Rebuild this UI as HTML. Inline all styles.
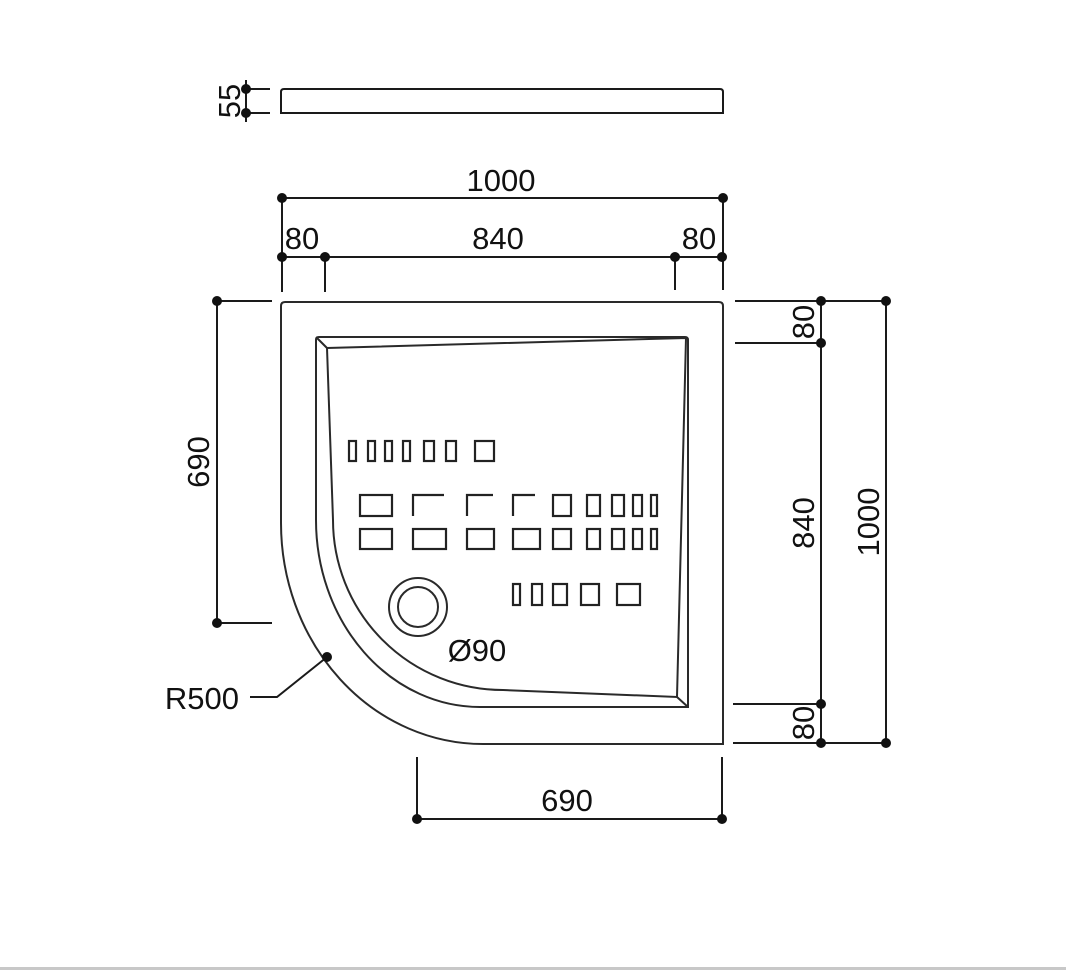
<!DOCTYPE html>
<html><head><meta charset="utf-8"><style>
html,body{margin:0;padding:0;background:#fff;width:1066px;height:972px;overflow:hidden}
svg{display:block}
text{font-family:"Liberation Sans",Arial,sans-serif;font-size:31px;fill:#111}
</style></head><body>
<svg width="1066" height="972" viewBox="0 0 1066 972" xmlns="http://www.w3.org/2000/svg">
<g fill="none" stroke="#1a1a1a" stroke-width="2">
<path d="M281,113 L281,92 Q281,89 284,89 L720,89 Q723,89 723,92 L723,113 Z"/>
<line x1="246" y1="80" x2="246" y2="122"/>
<line x1="246" y1="89" x2="270" y2="89"/>
<line x1="246" y1="113" x2="270" y2="113"/>
<line x1="282" y1="198" x2="723" y2="198"/>
<line x1="282" y1="198" x2="282" y2="292"/>
<line x1="723" y1="198" x2="723" y2="290"/>
<line x1="282" y1="257" x2="722" y2="257"/>
<line x1="325" y1="257" x2="325" y2="292"/>
<line x1="675" y1="257" x2="675" y2="290"/>
<line x1="217" y1="301" x2="217" y2="623"/>
<line x1="217" y1="301" x2="272" y2="301"/>
<line x1="217" y1="623" x2="272" y2="623"/>
<line x1="821" y1="301" x2="821" y2="743"/>
<line x1="886" y1="301" x2="886" y2="743"/>
<line x1="735" y1="301" x2="886" y2="301"/>
<line x1="735" y1="343" x2="821" y2="343"/>
<line x1="733" y1="704" x2="821" y2="704"/>
<line x1="733" y1="743" x2="886" y2="743"/>
<line x1="417" y1="757" x2="417" y2="819"/>
<line x1="722" y1="757" x2="722" y2="819"/>
<line x1="417" y1="819" x2="722" y2="819"/>
<polyline points="327,657 277,697 250,697"/>
</g>
<g fill="none" stroke="#2a2a2a" stroke-width="2">
<path d="M281,523 L281,306 Q281,302 285,302 L719,302 Q723,302 723,306 L723,744 L483,744 A202,221 0 0 1 281,523 Z"/>
<path d="M316,520 L316,340 Q316,337 319,337 L685,337 Q688,337 688,340 L688,707 L480,707 A164,187 0 0 1 316,520 Z"/>
<path d="M327,348 L686,338 L677,697 L503,690 A170,170 0 0 1 333,520 Z"/>
<line x1="316" y1="337" x2="327" y2="348"/>
<line x1="688" y1="707" x2="677" y2="697"/>
<circle cx="418" cy="607" r="29"/>
<circle cx="418" cy="607" r="20"/>
</g>
<g fill="none" stroke="#222" stroke-width="2.2">
<rect x="349" y="441" width="7" height="20"/>
<rect x="368" y="441" width="7" height="20"/>
<rect x="385" y="441" width="7" height="20"/>
<rect x="403" y="441" width="7" height="20"/>
<rect x="424" y="441" width="10" height="20"/>
<rect x="446" y="441" width="10" height="20"/>
<rect x="475" y="441" width="19" height="20"/>
<rect x="360" y="495" width="32" height="21"/>
<polyline points="413,516 413,495 444,495"/>
<polyline points="467,516 467,495 493,495"/>
<polyline points="513,516 513,495 535,495"/>
<rect x="553" y="495" width="18" height="21"/>
<rect x="587" y="495" width="13" height="21"/>
<rect x="612" y="495" width="12" height="21"/>
<rect x="633" y="495" width="9" height="21"/>
<rect x="651" y="495" width="6" height="21"/>
<rect x="360" y="529" width="32" height="20"/>
<rect x="413" y="529" width="33" height="20"/>
<rect x="467" y="529" width="27" height="20"/>
<rect x="513" y="529" width="27" height="20"/>
<rect x="553" y="529" width="18" height="20"/>
<rect x="587" y="529" width="13" height="20"/>
<rect x="612" y="529" width="12" height="20"/>
<rect x="633" y="529" width="9" height="20"/>
<rect x="651" y="529" width="6" height="20"/>
<rect x="513" y="584" width="7" height="21"/>
<rect x="532" y="584" width="10" height="21"/>
<rect x="553" y="584" width="14" height="21"/>
<rect x="581" y="584" width="18" height="21"/>
<rect x="617" y="584" width="23" height="21"/>
</g>
<g fill="#111">
<circle cx="246" cy="89" r="5"/><circle cx="246" cy="113" r="5"/>
<circle cx="282" cy="198" r="5"/><circle cx="723" cy="198" r="5"/>
<circle cx="282" cy="257" r="5"/><circle cx="325" cy="257" r="5"/><circle cx="675" cy="257" r="5"/><circle cx="722" cy="257" r="5"/>
<circle cx="217" cy="301" r="5"/><circle cx="217" cy="623" r="5"/>
<circle cx="821" cy="301" r="5"/><circle cx="821" cy="343" r="5"/><circle cx="821" cy="704" r="5"/><circle cx="821" cy="743" r="5"/>
<circle cx="886" cy="301" r="5"/><circle cx="886" cy="743" r="5"/>
<circle cx="417" cy="819" r="5"/><circle cx="722" cy="819" r="5"/>
<circle cx="327" cy="657" r="5"/>
</g>
<text x="501" y="191" text-anchor="middle">1000</text>
<text x="302" y="249" text-anchor="middle">80</text>
<text x="498" y="249" text-anchor="middle">840</text>
<text x="699" y="249" text-anchor="middle">80</text>
<text x="567" y="811" text-anchor="middle">690</text>
<text x="239" y="709" text-anchor="end">R500</text>
<text x="477" y="661" text-anchor="middle">Ø90</text>
<text transform="translate(240,101) rotate(-90)" text-anchor="middle">55</text>
<text transform="translate(209,462) rotate(-90)" text-anchor="middle">690</text>
<text transform="translate(814,322) rotate(-90)" text-anchor="middle">80</text>
<text transform="translate(814,523) rotate(-90)" text-anchor="middle">840</text>
<text transform="translate(814,723) rotate(-90)" text-anchor="middle">80</text>
<text transform="translate(879,522) rotate(-90)" text-anchor="middle">1000</text>
<rect x="0" y="967" width="1066" height="3" fill="#c8c8c8"/>
</svg>
</body></html>
